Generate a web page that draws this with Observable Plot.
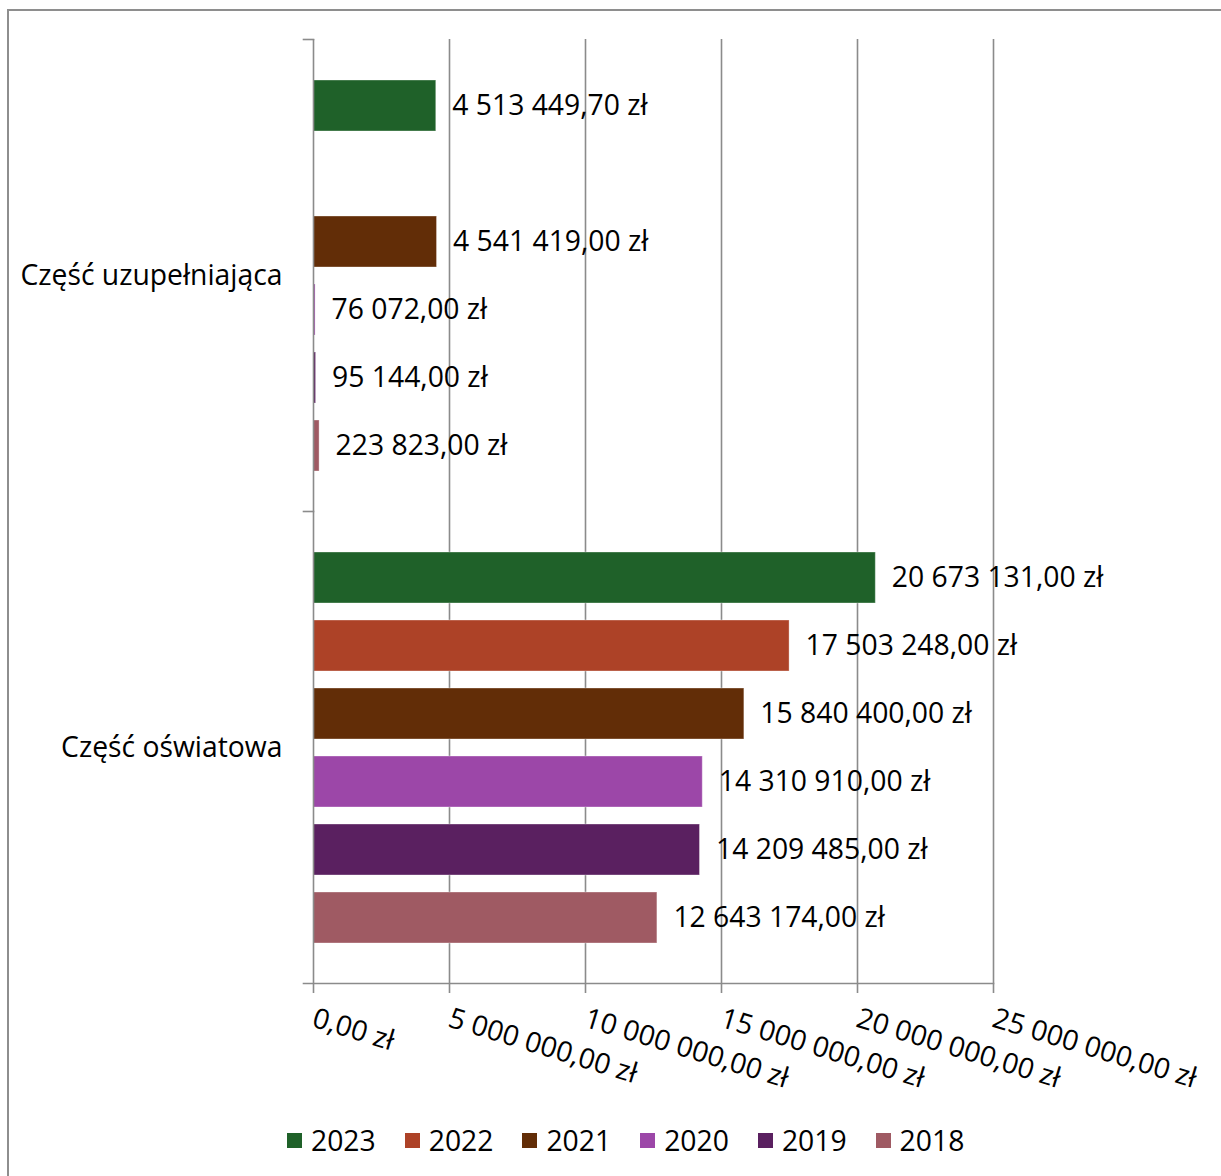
<!DOCTYPE html>
<html>
<head>
<meta charset="utf-8">
<script src="https://cdn.jsdelivr.net/npm/d3@7"></script>
<script src="https://cdn.jsdelivr.net/npm/@observablehq/plot@0.6"></script>
<style>
  html, body { margin: 0; padding: 0; background: #fff; width: 1221px; height: 1176px; overflow: hidden; }
  #wrap { position: relative; width: 1221px; height: 1176px; font-family: "Open Sans", sans-serif; }
  #border { position: absolute; left: 7px; top: 9px; width: 1400px; height: 1400px; border-left: 2px solid #8e8e8e; border-top: 2px solid #8e8e8e; }
  #chart { position: absolute; left: 0; top: 0; }
  #legend { position: absolute; left: 287px; top: 1121px; display: flex; align-items: center; font-size: 28.3px; color: #000; }
  .item { display: flex; align-items: center; margin-right: 29px; }
  .sw { width: 15px; height: 15px; margin-right: 9px; }
</style>
</head>
<body>
<div id="wrap">
  <div id="border"></div>
  <div id="chart"></div>
  <div id="legend"></div>
</div>
<script>
const categories = ["Część uzupełniająca", "Część oświatowa"];
const years = ["2023", "2022", "2021", "2020", "2019", "2018"];
const yearColors = ["#1f6129", "#ad4227", "#622d07", "#9c47a8", "#5a2060", "#9f5a63"];
const valuesUzupelniajaca = [4513449.70, null, 4541419.00, 76072.00, 95144.00, 223823.00];
const valuesOswiatowa = [20673131.00, 17503248.00, 15840400.00, 14310910.00, 14209485.00, 12643174.00];
const xTicks = [0, 5000000, 10000000, 15000000, 20000000, 25000000];

const seriesByCategory = [valuesUzupelniajaca, valuesOswiatowa];
const data = [];
categories.forEach((cat, ci) => {
  years.forEach((yr, yi) => {
    const v = seriesByCategory[ci][yi];
    if (v != null) data.push({cat, year: yr, value: v});
  });
});

const locale = d3.formatLocale({decimal: ",", thousands: " ", grouping: [3], currency: ["", " zł"]});
const num = locale.format(",.2f");
const zl = v => num(v) + " zł";

const W = 1221, H = 1110;
const gray = "#8b8b8b";
const FONT = 28.3;

const chart = Plot.plot({
  width: W,
  height: H,
  marginLeft: 313,
  marginRight: 228,
  marginTop: 38,
  marginBottom: H - 983,
  style: {fontFamily: "'Open Sans', sans-serif", background: "transparent", color: "#000"},
  x: {domain: [0, 25000000]},
  y: {domain: years, paddingInner: 0.25, paddingOuter: 0.58, axis: null},
  fy: {domain: categories, padding: 0},
  color: {domain: years, range: yearColors},
  marks: [
    Plot.gridX({ticks: xTicks.slice(1), stroke: gray, strokeOpacity: 1, strokeWidth: 1.6}),
    Plot.barX(data, {x: "value", y: "year", fy: "cat", fill: "year", stroke: "#ffffff", strokeOpacity: 0.35, strokeWidth: 1}),
    Plot.text(data, {x: "value", y: "year", fy: "cat", text: d => zl(d.value), textAnchor: "start", dx: 16, fontSize: FONT, fill: "#000"}),
    Plot.ruleX([0], {stroke: gray, strokeWidth: 1.6}),
    Plot.frame({anchor: "top", insetLeft: -10, insetRight: 680, stroke: gray, strokeWidth: 1.6}),
    Plot.frame({anchor: "bottom", facetAnchor: "bottom", insetLeft: -10, stroke: gray, strokeWidth: 1.6}),
    Plot.axisX({anchor: "bottom", ticks: xTicks, tickFormat: zl, tickRotate: 17, tickSize: 10, tickPadding: 24, fontSize: FONT, label: null, stroke: gray, strokeWidth: 1.6, fill: "#000"}),
    Plot.axisFy({anchor: "left", tickSize: 0, tickPadding: 31, fontSize: FONT, label: null, fill: "#000"})
  ]
});
document.getElementById("chart").appendChild(chart);

const legend = document.getElementById("legend");
years.forEach((yr, i) => {
  const item = document.createElement("div");
  item.className = "item";
  const sw = document.createElement("span");
  sw.className = "sw";
  sw.style.background = yearColors[i];
  const lab = document.createElement("span");
  lab.textContent = yr;
  item.appendChild(sw);
  item.appendChild(lab);
  legend.appendChild(item);
});
</script>
</body>
</html>
